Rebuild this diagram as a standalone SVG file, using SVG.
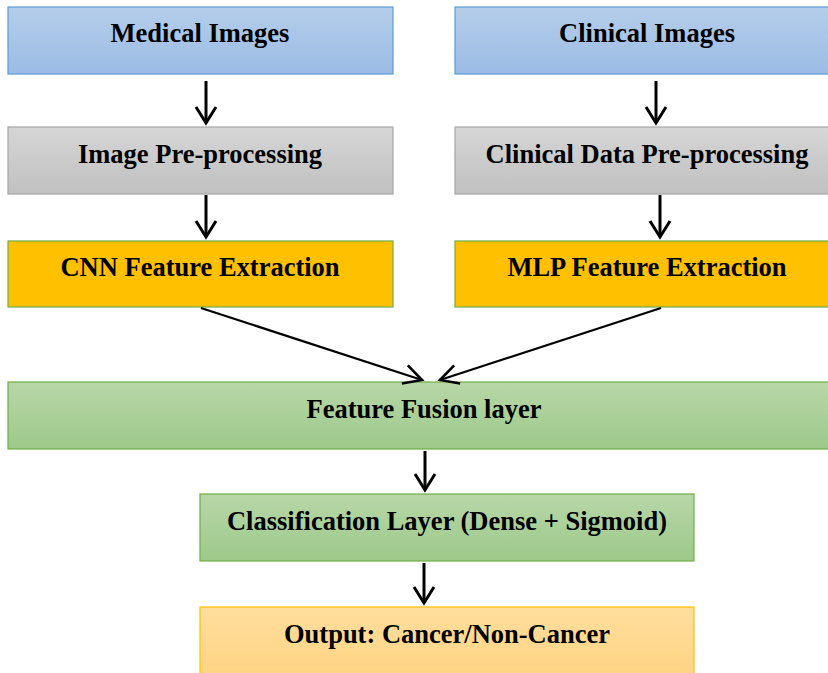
<svg xmlns="http://www.w3.org/2000/svg" width="828" height="673" viewBox="0 0 828 673">
<style>
text{font-family:"Liberation Serif","Times New Roman",serif;font-weight:bold;font-size:26.5px;fill:#000;text-anchor:middle}
.c{fill:none;stroke:#000;stroke-width:3}
.d{fill:none;stroke:#000;stroke-width:2.2}
</style>
<defs>
<linearGradient id="gb" x1="0" y1="0" x2="0" y2="1"><stop offset="0" stop-color="#b5cdea"/><stop offset="1" stop-color="#9bbce5"/></linearGradient>
<linearGradient id="gg" x1="0" y1="0" x2="0" y2="1"><stop offset="0" stop-color="#d6d6d6"/><stop offset="1" stop-color="#c0c0c0"/></linearGradient>
<linearGradient id="gn" x1="0" y1="0" x2="0" y2="1"><stop offset="0" stop-color="#b7d7a8"/><stop offset="1" stop-color="#9dc98a"/></linearGradient>
<linearGradient id="go" x1="0" y1="0" x2="0" y2="1"><stop offset="0" stop-color="#ffde9d"/><stop offset="1" stop-color="#ffd483"/></linearGradient>
<marker id="ah" markerUnits="userSpaceOnUse" markerWidth="30" markerHeight="30" viewBox="-20 -15 30 30" refX="0" refY="0" orient="auto">
<path d="M-16,-10 L0,0 L-16,10" fill="none" stroke="#000" stroke-width="3"/>
</marker>
<marker id="ah2" markerUnits="userSpaceOnUse" markerWidth="30" markerHeight="30" viewBox="-22 -15 30 30" refX="0" refY="0" orient="auto">
<path d="M-18,-9.5 L0,0 L-18,9.5" fill="none" stroke="#000" stroke-width="2.6"/>
</marker>
</defs>
<rect width="828" height="673" fill="#fff"/>
<g id="n1"><rect x="8" y="7" width="385" height="67" fill="url(#gb)" stroke="#5b9bd5" stroke-width="1.2"/><text x="200" y="42">Medical Images</text></g>
<g id="n2"><rect x="455" y="7" width="385" height="67" fill="url(#gb)" stroke="#5b9bd5" stroke-width="1.2"/><text x="647" y="42">Clinical Images</text></g>
<g id="n3"><rect x="8" y="127" width="385" height="67" fill="url(#gg)" stroke="#a5a5a5" stroke-width="1.2"/><text x="200" y="163">Image Pre-processing</text></g>
<g id="n4"><rect x="455" y="127" width="385" height="67" fill="url(#gg)" stroke="#a5a5a5" stroke-width="1.2"/><text x="647" y="163">Clinical Data Pre-processing</text></g>
<g id="n5"><rect x="8" y="241" width="385" height="66" fill="#ffc000" stroke="#70ad47" stroke-width="1.2"/><text x="200" y="276">CNN Feature Extraction</text></g>
<g id="n6"><rect x="455" y="241" width="385" height="66" fill="#ffc000" stroke="#70ad47" stroke-width="1.2"/><text x="647" y="276">MLP Feature Extraction</text></g>
<g id="n7"><rect x="8" y="382" width="832" height="67" fill="url(#gn)" stroke="#70ad47" stroke-width="1.2"/><text x="424" y="418">Feature Fusion layer</text></g>
<g id="n8"><rect x="200" y="494" width="494" height="67" fill="url(#gn)" stroke="#70ad47" stroke-width="1.2"/><text x="447" y="530">Classification Layer (Dense + Sigmoid)</text></g>
<g id="n9"><rect x="200" y="607" width="494" height="70" fill="url(#go)" stroke="#ffc000" stroke-width="1.2"/><text x="447" y="643">Output: Cancer/Non-Cancer</text></g>
<g id="connectors">
<line class="c" x1="206" y1="81" x2="206" y2="123" marker-end="url(#ah)"/>
<line class="c" x1="656" y1="81" x2="656" y2="123" marker-end="url(#ah)"/>
<line class="c" x1="206" y1="195" x2="206" y2="237" marker-end="url(#ah)"/>
<line class="c" x1="660" y1="195" x2="660" y2="237" marker-end="url(#ah)"/>
<line class="d" x1="201" y1="308" x2="422" y2="380" marker-end="url(#ah2)"/>
<line class="d" x1="661" y1="308" x2="440" y2="380" marker-end="url(#ah2)"/>
<line class="c" x1="425" y1="451" x2="425" y2="490" marker-end="url(#ah)"/>
<line class="c" x1="424" y1="563" x2="424" y2="603" marker-end="url(#ah)"/>
</g>
</svg>
